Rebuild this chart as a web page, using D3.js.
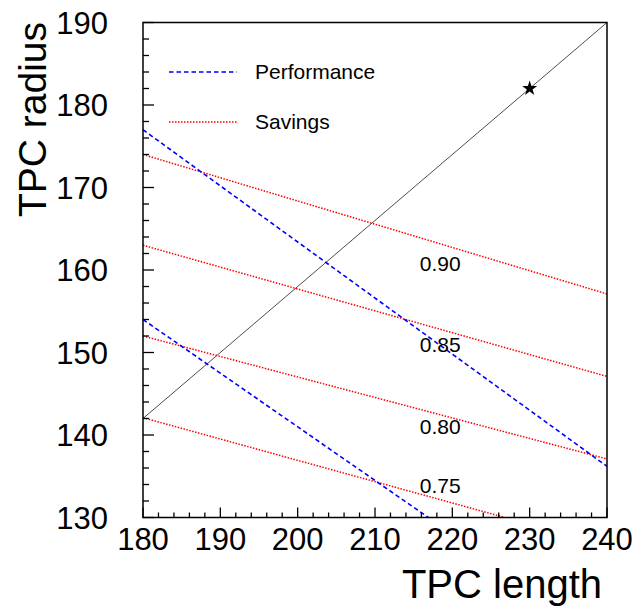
<!DOCTYPE html>
<html lang="en">
<head>
<meta charset="utf-8"/>
<title>TPC length vs radius</title>
<script src="https://d3js.org/d3.v7.min.js"></script>
<style>
  body { margin: 0; background: #fff; }
  text { font-family: "Liberation Sans", Arial, sans-serif; fill: #000; }
  .frame { fill: none; stroke: #000; stroke-width: 1.5px; }
</style>
</head>
<body>
<div id="chart"></div>
<script>
// data
var xTicks = [180, 190, 200, 210, 220, 230, 240];
var yTicks = [130, 140, 150, 160, 170, 180, 190];

// diagonal reference line and the chosen point
var diagonal = [[180, 142], [240, 190]];
var chosen = [230, 182];

// performance contours (blue dashed)
var perfA = [[180, 177], [240, 136.2]];
var perfB = [[180, 154], [216.9, 130]];

// savings contours (red dotted)
var savingsNames = ["0.90", "0.85", "0.80", "0.75"];
var savingsLines = [
  [[180, 174.0], [240, 157.1]],
  [[180, 163.0], [240, 147.1]],
  [[180, 152.0], [240, 137.1]],
  [[180, 142.1], [226.8, 130]]
];
var savingsLabelX = 215.8;
var savingsLabelY = [160.8, 150.9, 141.0, 133.9];

var W = 638, H = 606;
var m = {top: 22.5, right: 31, bottom: 88.5, left: 143};
var w = W - m.left - m.right, h = H - m.top - m.bottom;

var svg = d3.select("#chart").append("svg")
  .attr("width", W).attr("height", H);

var x = d3.scaleLinear().domain([180, 240]).range([0, w]);
var y = d3.scaleLinear().domain([130, 190]).range([h, 0]);

var g = svg.append("g").attr("transform", "translate(" + m.left + "," + m.top + ")");

g.append("clipPath").attr("id", "clip")
  .append("rect").attr("width", w).attr("height", h);

var line = d3.line()
  .x(function(d) { return x(d[0]); })
  .y(function(d) { return y(d[1]); });

var plot = g.append("g").attr("clip-path", "url(#clip)");

plot.append("path").datum(diagonal)
  .attr("d", line).attr("fill", "none")
  .attr("stroke", "#000").attr("stroke-width", 0.7);

plot.selectAll(".sav").data(savingsLines).enter().append("path")
  .attr("class", "sav")
  .attr("d", line).attr("fill", "none")
  .attr("stroke", "#ff0000").attr("stroke-width", 1.5)
  .attr("stroke-dasharray", "1.5,1.5");

plot.selectAll(".perf").data([perfA, perfB]).enter().append("path")
  .attr("class", "perf")
  .attr("d", line).attr("fill", "none")
  .attr("stroke", "#0000ff").attr("stroke-width", 1.6)
  .attr("stroke-dasharray", "4.5,3");

// savings labels
g.selectAll(".slab").data(savingsNames).enter().append("text")
  .attr("class", "slab")
  .attr("x", x(savingsLabelX))
  .attr("y", function(d, i) { return y(savingsLabelY[i]); })
  .attr("dy", "0.35em")
  .attr("font-size", 21)
  .text(function(d) { return d; });

// star marker
g.append("path")
  .attr("d", d3.symbol().type(d3.symbolStar).size(70)())
  .attr("transform", "translate(" + x(chosen[0]) + "," + y(chosen[1]) + ")")
  .attr("fill", "#000");

// axes: ticks inside, major every 10, minor every 2
var xAxis = g.append("g").attr("transform", "translate(0," + h + ")");
xAxis.selectAll(".minor").data(d3.range(180, 241, 2)).enter().append("line")
  .attr("x1", x).attr("x2", x)
  .attr("y1", 0).attr("y2", function(d) { return d % 10 === 0 ? -10 : -5; })
  .attr("stroke", "#000").attr("stroke-width", 1.3);
xAxis.selectAll("text").data(xTicks).enter().append("text")
  .attr("x", x).attr("y", 32.5)
  .attr("text-anchor", "middle")
  .attr("font-size", 31)
  .text(function(d) { return d; });

var yAxis = g.append("g");
yAxis.selectAll(".minor").data(d3.range(130, 191, 2)).enter().append("line")
  .attr("y1", y).attr("y2", y)
  .attr("x1", 0).attr("x2", function(d) { return d % 10 === 0 ? 11 : 6; })
  .attr("stroke", "#000").attr("stroke-width", 1.3);
yAxis.selectAll("text").data(yTicks).enter().append("text")
  .attr("x", -35).attr("y", y)
  .attr("dy", "0.36em")
  .attr("text-anchor", "end")
  .attr("font-size", 31)
  .text(function(d) { return d; });

g.append("rect").attr("class", "frame").attr("width", w).attr("height", h);

// axis titles
svg.append("text")
  .attr("x", 602).attr("y", 598)
  .attr("text-anchor", "end")
  .attr("font-size", 40)
  .text("TPC length");

svg.append("text")
  .attr("transform", "translate(46,22) rotate(-90)")
  .attr("text-anchor", "end")
  .attr("font-size", 39)
  .text("TPC radius");

// legend
var legend = svg.append("g");
var legItems = [
  {name: "Performance", color: "#0000ff", dash: "4.5,3", yy: 72},
  {name: "Savings", color: "#ff0000", dash: "1.5,1.5", yy: 122}
];
var li = legend.selectAll("g").data(legItems).enter().append("g");
li.append("line")
  .attr("x1", 169).attr("x2", 237)
  .attr("y1", function(d) { return d.yy; }).attr("y2", function(d) { return d.yy; })
  .attr("stroke", function(d) { return d.color; })
  .attr("stroke-width", 1.5)
  .attr("stroke-dasharray", function(d) { return d.dash; });
li.append("text")
  .attr("x", 255).attr("y", function(d) { return d.yy; })
  .attr("dy", "0.35em")
  .attr("font-size", 21)
  .text(function(d) { return d.name; });
</script>
</body>
</html>
